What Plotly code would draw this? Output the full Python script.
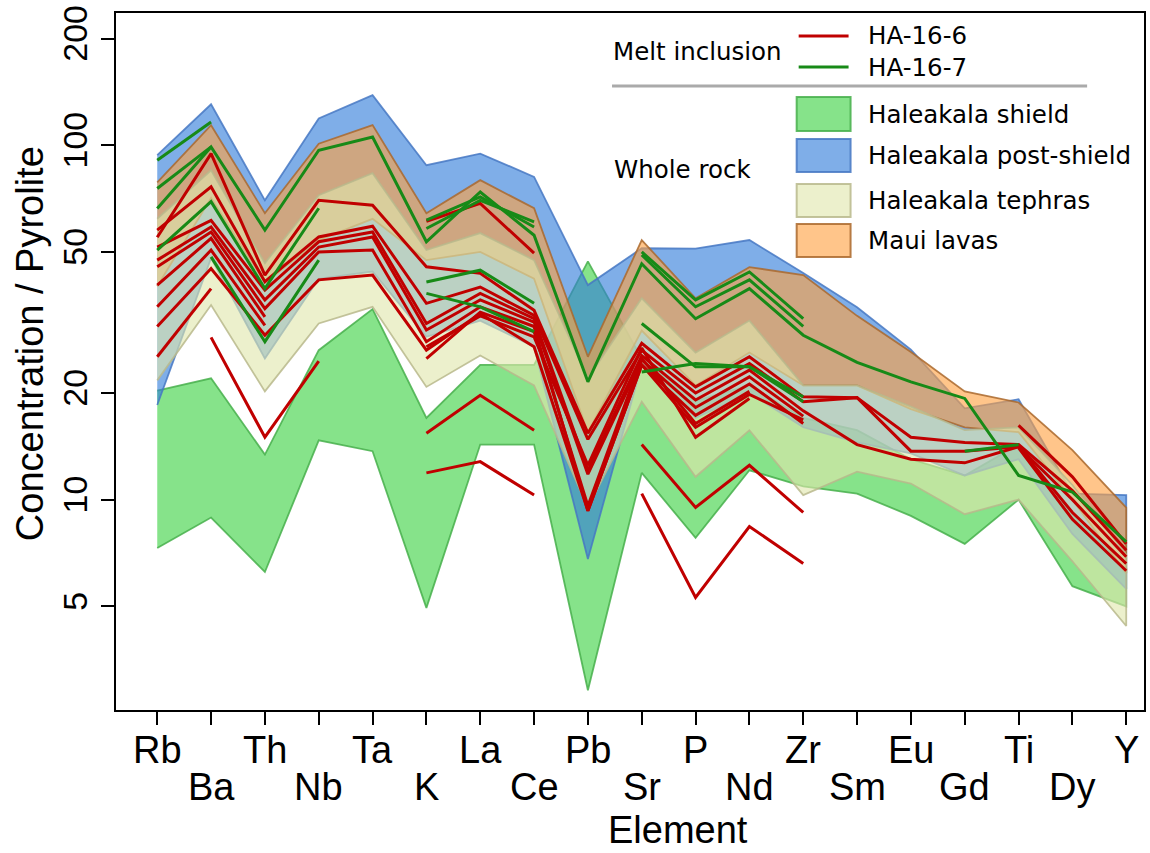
import plotly.graph_objects as go

elements = ["Rb", "Ba", "Th", "Nb", "Ta", "K", "La", "Ce", "Pb", "Sr",
            "P", "Nd", "Zr", "Sm", "Eu", "Gd", "Ti", "Dy", "Y"]
x_idx = list(range(len(elements)))
_ = None

# Whole-rock fields: upper and lower envelopes (concentration / pyrolite)
shield_hi = [20.3, 22.0, 13.4, 26.4, 34.5, 17.0, 24.0, 24.0, 47.0, 25.0, 19.0, 21.0, 17.0, 15.7, 13.0, 11.7, 14.3, 9.0, 6.4]
shield_lo = [7.3, 8.9, 6.25, 14.7, 13.7, 4.95, 14.3, 14.3, 2.9, 11.9, 7.8, 12.1, 10.9, 10.4, 9.0, 7.5, 10.0, 5.7, 5.0]
post_hi = [93.7, 130.5, 69.9, 119.0, 138.4, 87.8, 94.7, 81.4, 40.3, 51.2, 51.1, 54.0, 43.6, 34.9, 26.5, 18.1, 19.2, 10.4, 10.3]
post_lo = [18.5, 48.0, 25.0, 42.0, 44.0, 28.8, 32.0, 27.0, 6.8, 24.0, 17.0, 20.0, 16.0, 14.5, 13.5, 11.7, 13.0, 8.0, 5.6]
teph_hi = [62.0, 85.0, 46.5, 72.3, 83.4, 50.6, 56.5, 47.4, 22.0, 37.0, 26.0, 32.0, 21.0, 21.0, 18.3, 15.7, 16.0, 11.0, 7.0]
teph_lo = [21.7, 35.4, 20.2, 31.4, 35.0, 20.8, 25.5, 21.0, 9.5, 18.9, 11.6, 15.7, 10.3, 12.0, 11.1, 9.1, 10.0, 6.7, 4.4]
maui_hi = [78.6, 113.9, 64.3, 101.0, 114.0, 64.3, 79.7, 66.4, 25.3, 54.0, 37.0, 45.3, 43.0, 33.0, 26.1, 20.2, 18.8, 13.8, 9.5]
maui_lo = [40.0, 71.0, 40.8, 54.0, 62.0, 47.4, 50.0, 42.0, 15.5, 30.0, 21.0, 26.0, 21.0, 21.0, 18.0, 16.0, 15.5, 10.0, 6.2]

# Melt inclusions, HA-16-6 (None = element not analysed)
ha16_6 = [
    [55.0, 94.7, 43.0, 69.9, 67.7, 45.4, 43.5, 34.2, 15.4, 27.6, 20.8, 25.3, 19.5, 19.4, 15.0, 14.5, 14.3, 10.6, 7.2],
    [57.6, 76.3, 41.2, 55.1, 59.1, 35.8, 39.8, 33.1, 14.8, 26.4, 20.0, 24.2, 18.9, 19.4, 13.7, 13.7, 14.1, 10.0, 6.9],
    [51.6, 61.4, 39.0, 53.4, 56.9, 31.4, 38.2, 32.4, 12.1, 25.5, 19.1, 23.2, 17.8, 14.3, 13.0, 12.7, 14.1, 9.2, 6.6],
    [47.4, 58.8, 36.6, 51.6, 55.1, 30.1, 36.6, 31.7, 11.8, 24.8, 18.2, 22.2, 17.2, _, _, _, 14.0, 8.8, 6.3],
    [45.4, 56.9, 34.6, 50.0, 50.6, 27.9, 35.0, 30.8, 9.3, 24.0, 17.3, 21.2, 16.4, _, _, _, _, _, _],
    [40.3, 54.6, 32.8, _, _, 25.0, 33.8, 29.8, 9.6, 25.0, 16.4, 20.2, _, _, _, _, _, _, _],
    [35.0, 50.6, 31.0, _, _, 27.0, 33.0, 28.8, 12.5, 26.8, 15.0, 19.3, _, _, _, _, _, _, _],
    [30.8, 44.9, 29.1, 41.7, 43.0, 26.4, 33.5, 27.0, 9.3, 24.0, 16.0, 19.8, 16.8, _, _, _, _, _, _],
    [25.3, 39.4, _, _, _, _, _, _, _, _, _, _, _, _, _, _, _, _, _],
    [_, _, _, _, _, 61.0, 68.5, 49.6, _, _, _, _, _, _, _, _, _, _, _],
    [_, 28.7, 15.0, 24.6, _, _, _, _, _, _, _, _, _, _, _, _, _, _, _],
    [_, _, _, _, _, 15.4, 19.7, 15.7, _, 14.3, 9.5, 12.5, 9.2, _, _, _, _, _, _],
    [_, _, _, _, _, 11.9, 12.8, 10.3, _, 10.4, 5.3, 8.4, 6.6, _, _, _, _, _, _],
    [_, _, _, _, _, _, _, _, _, _, _, _, _, _, _, _, 16.2, 11.6, 7.5],
]

# Melt inclusions, HA-16-7
ha16_7 = [
    [90.7, 116.3, _, _, _, _, _, _, _, _, _, _, _, _, _, _, _, _, _],
    [75.5, 98.9, _, _, _, _, _, _, _, _, _, _, _, _, _, _, _, _, _],
    [66.3, 98.9, 57.6, 96.8, 105.5, 53.4, 73.8, 55.7, 21.5, 46.3, 32.4, 39.4, 29.1, 24.4, 21.5, 19.3, 11.7, 10.5, 7.6],
    [50.6, 69.3, 39.4, 66.4, _, _, _, _, _, _, _, _, _, _, _, _, _, _, _],
    [_, 48.4, 27.9, 47.4, _, _, _, _, _, _, _, _, _, _, _, _, _, _, _],
    [_, _, _, _, _, 61.5, 71.5, 58.8, _, 50.0, 36.6, 43.9, 32.4, _, _, _, _, _, _],
    [_, _, _, _, _, 58.2, 69.9, 60.8, _, 49.0, 35.0, 41.7, 30.8, _, _, _, _, _, _],
    [_, _, _, _, _, 41.1, 44.4, 35.8, _, 31.4, 23.7, 23.7, 19.5, _, _, _, _, _, _],
    [_, _, _, _, _, 38.2, 35.0, 29.8, _, 22.9, 24.2, 23.7, 18.9, _, _, 13.7, 14.3, _, _],
]

y_ticks = [5, 10, 20, 50, 100, 200]

RED = "#C00000"
GREEN = "#178A17"
fields = [
    ("Haleakala shield", shield_hi, shield_lo, "rgba(60,210,66,0.62)", "rgba(70,175,75,0.85)"),
    ("Haleakala post-shield", post_hi, post_lo, "rgba(49,124,218,0.62)", "rgba(70,120,195,0.85)"),
    ("Maui lavas", maui_hi, maui_lo, "rgba(255,161,66,0.62)", "rgba(170,105,45,0.85)"),
    ("Haleakala tephras", teph_hi, teph_lo, "rgba(224,231,173,0.62)", "rgba(185,185,140,0.85)"),
]

R_FONT = "Liberation Sans, Arial, sans-serif"
L_FONT = "DejaVu Sans, Verdana, sans-serif"

fig = go.Figure()

for name, hi, lo, fc, lc in fields:
    fig.add_trace(go.Scatter(
        x=x_idx + x_idx[::-1], y=hi + lo[::-1],
        fill="toself", fillcolor=fc, mode="lines",
        line=dict(color=lc, width=1.8), name=name,
        hoverinfo="skip", showlegend=False))

for series, color in ((ha16_6, RED), (ha16_7, GREEN)):
    for vals in series:
        fig.add_trace(go.Scatter(
            x=x_idx, y=vals, mode="lines", connectgaps=False,
            line=dict(color=color, width=3), hoverinfo="skip",
            showlegend=False))

# plot-area geometry in pixels (used for the hand-built key)
X0, X1, Y0, Y1 = 116, 1146, 13, 710


def px(x):
    return (x - X0) / (X1 - X0)


def py(y):
    return (Y1 - y) / (Y1 - Y0)


shapes = []
annotations = []


def key_text(text, x, y, size=24.5):
    annotations.append(dict(text=text, x=px(x), y=py(y), xref="paper", yref="paper",
                            xanchor="left", yanchor="middle", showarrow=False,
                            font=dict(family=L_FONT, size=size, color="black")))


key_text("Melt inclusion", 612, 52)
key_text("Whole rock", 613, 170)
for label, color, yy in (("HA-16-6", RED, 36), ("HA-16-7", GREEN, 67)):
    shapes.append(dict(type="line", xref="paper", yref="paper",
                       x0=px(800), x1=px(850), y0=py(yy), y1=py(yy),
                       line=dict(color=color, width=3)))
    key_text(label, 867, yy)
shapes.append(dict(type="line", xref="paper", yref="paper",
                   x0=px(613), x1=px(1089), y0=py(86), y1=py(86),
                   line=dict(color="#AAAAAA", width=3)))
key_rows = {"Haleakala shield": (97, 131), "Haleakala post-shield": (139, 172),
            "Haleakala tephras": (184, 217), "Maui lavas": (224, 257)}
for name, hi, lo, fc, lc in fields:
    top, bot = key_rows[name]
    shapes.append(dict(type="rect", xref="paper", yref="paper",
                       x0=px(798), x1=px(852), y0=py(bot), y1=py(top),
                       fillcolor=fc, line=dict(color=lc, width=2)))
    key_text(name, 867, (top + bot) / 2)

# staggered element labels on the x axis
for i, el in enumerate(elements):
    annotations.append(dict(text=el, x=i, xref="x", y=0, yref="paper",
                            yanchor="middle", xanchor="center",
                            yshift=-40 if i % 2 == 0 else -77, showarrow=False,
                            font=dict(family=R_FONT, size=38, color="black")))

annotations.append(dict(text="Element", x=px(679), y=py(830), xref="paper", yref="paper",
                        xanchor="center", yanchor="middle", showarrow=False,
                        font=dict(family=R_FONT, size=38, color="black")))
annotations.append(dict(text="Concentration / Pyrolite", x=px(30), y=py(344),
                        xref="paper", yref="paper", textangle=-90,
                        xanchor="center", yanchor="middle", showarrow=False,
                        font=dict(family=R_FONT, size=38, color="black")))

fig.update_layout(
    width=1150, height=853,
    margin=dict(l=X0, r=1150 - X1, t=Y0, b=853 - Y1),
    paper_bgcolor="white", plot_bgcolor="white",
    showlegend=False, shapes=shapes, annotations=annotations,
    xaxis=dict(range=[-0.766, 18.33], tickmode="array", tickvals=x_idx,
               ticktext=[""] * len(elements), ticks="outside", ticklen=13,
               tickwidth=2, tickcolor="black", showline=True, mirror=True,
               linecolor="black", linewidth=2, showgrid=False, zeroline=False),
    yaxis=dict(type="log", range=[0.4065, 2.373], tickmode="array",
               tickvals=y_ticks, ticktext=[str(v) for v in y_ticks],
               tickangle=-90, ticks="outside", ticklen=13, tickwidth=2,
               tickcolor="black", showline=True, mirror=True, linecolor="black",
               linewidth=2, showgrid=False, zeroline=False,
               tickfont=dict(family=R_FONT, size=34, color="black")),
)

fig.write_html("out.html")
